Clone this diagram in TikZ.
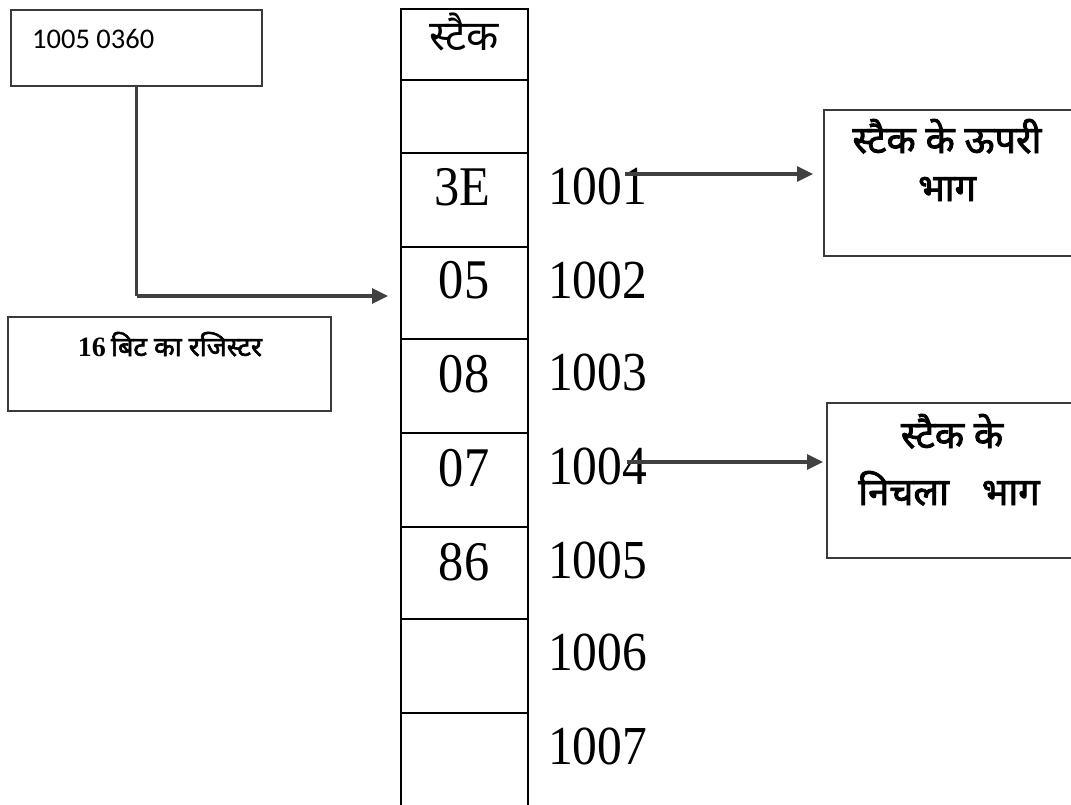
\documentclass[tikz,border=0pt]{standalone}
\usepackage{fontspec}
\setmainfont{Liberation Serif}
\newfontfamily\deva[Script=Devanagari]{Noto Sans}
\newfontfamily\devab[Script=Devanagari,FakeBold=2.2]{Noto Sans}
\newfontfamily\calfont{Carlito}
\usetikzlibrary{arrows.meta}
\newcommand{\narrowtxt}[1]{\scalebox{0.9}[1]{#1}}
\definecolor{conn}{HTML}{404040}
\definecolor{boxline}{HTML}{3A3A3A}
\begin{document}
\begin{tikzpicture}[x=1pt,y=-1pt,
  cell/.style={draw=black,line width=2.6pt,anchor=north west,minimum width=127pt,inner sep=0pt,outer sep=0pt},
  infobox/.style={draw=boxline,line width=1.3pt,anchor=north west,inner sep=0pt,outer sep=0pt},
  val/.style={anchor=base,font=\fontsize{56}{56}\selectfont,inner sep=0pt},
  addr/.style={anchor=base west,font=\fontsize{55}{55}\selectfont,inner sep=0pt},
  arr/.style={draw=conn,line width=3.2pt,-{Triangle[length=16pt,width=15pt]}},
  conline/.style={draw=conn,line width=3.8pt},
  hd/.style={font=\devab\fontsize{38}{38}\selectfont,inner sep=0pt,anchor=base}
]
\useasboundingbox (0,0) rectangle (1071,804);
% stack cells
\node[cell,minimum height=71pt] (c0) at (401,9) {};
\node[cell,minimum height=73pt] (c1) at (401,80) {};
\node[cell,minimum height=94pt] (c2) at (401,153) {};
\node[cell,minimum height=92pt] (c3) at (401,247) {};
\node[cell,minimum height=94pt] (c4) at (401,339) {};
\node[cell,minimum height=94pt] (c5) at (401,433) {};
\node[cell,minimum height=92pt] (c6) at (401,527) {};
\node[cell,minimum height=94pt] (c7) at (401,619) {};
\node[cell,minimum height=120pt] (c8) at (401,713) {};
% header
\node[anchor=base,inner sep=0pt,font=\deva\fontsize{42}{42}\selectfont] (hdr) at (464,50) {स्टैक};
% values
\node[val] (v2) at (462,205) {\narrowtxt{3E}};
\node[val] (v3) at (464,298) {\narrowtxt{05}};
\node[val] (v4) at (464,392) {\narrowtxt{08}};
\node[val] (v5) at (464,486) {\narrowtxt{07}};
\node[val] (v6) at (464,580) {\narrowtxt{86}};
% addresses
\node[addr] (a1) at (548,204) {\narrowtxt{1001}};
\node[addr] (a2) at (548,298) {\narrowtxt{1002}};
\node[addr] (a3) at (548,390) {\narrowtxt{1003}};
\node[addr] (a4) at (548,484) {\narrowtxt{1004}};
\node[addr] (a5) at (548,578) {\narrowtxt{1005}};
\node[addr] (a6) at (548,670) {\narrowtxt{1006}};
\node[addr] (a7) at (548,764) {\narrowtxt{1007}};
% top-left box
\node[infobox,minimum width=251pt,minimum height=76pt] (reg) at (11,10) {};
\node[anchor=base west,inner sep=0pt,font=\calfont\fontsize{28.5}{28.5}\selectfont] (regtxt) at (32,48) {1005 0360};
% register box
\node[infobox,minimum width=323pt,minimum height=94pt] (bitreg) at (8,317) {};
\node[anchor=base,inner sep=0pt] (bittxt) at (170,356) {{\bfseries\fontsize{28}{28}\selectfont 16}\hspace{5pt}{\devab\fontsize{27}{27}\selectfont बिट का रजिस्टर}};
% right boxes
\node[infobox,minimum width=260pt,minimum height=146pt] (topbox) at (824,110) {};
\node[hd] (t1) at (947,153) {स्टैक के ऊपरी};
\node[hd] (t2) at (947,201) {भाग};
\node[infobox,minimum width=260pt,minimum height=155pt] (botbox) at (827,403) {};
\node[hd] (b1) at (952,448) {स्टैक के};
\node[hd] (b2) at (949,505) {निचला\hspace{0.6em} भाग};
% connectors
\coordinate (turn) at (reg.south |- 0,296);
\draw[conline] (reg.south) -- (turn);
\draw[arr] (turn) -- ([xshift=-13pt]c3.west |- turn);
\coordinate (s1) at (625,174);
\draw[arr,shorten >=11pt] (s1) -- (s1 -| topbox.west);
\coordinate (s2) at (627,462);
\draw[arr,shorten >=4pt] (s2) -- (s2 -| botbox.west);
\end{tikzpicture}
\end{document}
